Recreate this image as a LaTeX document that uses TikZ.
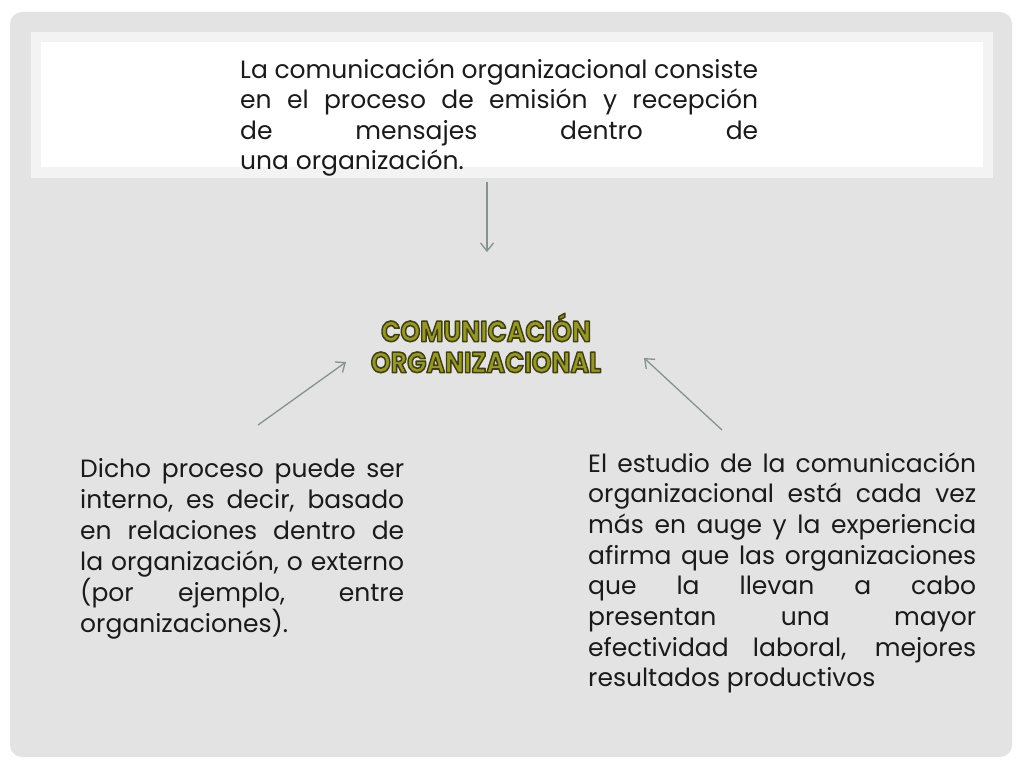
\documentclass[tikz,border=0pt]{standalone}
\usepackage{fontspec}
\setmainfont{Poppins}
\usetikzlibrary{calc}
\usetikzlibrary{arrows.meta}
\usetikzlibrary{positioning}

\definecolor{cardgray}{HTML}{E3E3E3}
\definecolor{bandgray}{HTML}{F3F3F3}
\definecolor{arrowgray}{HTML}{83938E}
\definecolor{olivefill}{HTML}{96962A}
\definecolor{textgray}{HTML}{1A1A1A}

\newcommand{\jline}[1]{\makebox[\hsize][s]{#1}\par}
\newcommand{\lline}[1]{\makebox[\hsize][l]{#1}\par}
% fill + dark stroke for the title glyphs
\newcommand{\outlined}[1]{\special{pdf:literal direct 2 Tr 1 j 1.6 w 0.25 0.25 0.06 RG}#1\special{pdf:literal direct 0 Tr}}

\tikzset{
  para/.style={anchor=base west, inner sep=0, text=textgray,
    font=\fontsize{25}{30}\selectfont},
  conn/.style={arrowgray, line width=1.3pt,
    -{Straight Barb[length=8pt,width=13pt]}},
  titletext/.style={font=\fontsize{29}{31}\selectfont\bfseries,
    align=center, inner sep=0}
}

\begin{document}
\begin{tikzpicture}[x=1pt,y=-1pt]
\useasboundingbox (0,0) rectangle (1024,768);
\fill[white] (0,0) rectangle (1024,768);
\fill[cardgray, rounded corners=12] (10,12) rectangle (1012,757);
\fill[bandgray] (31,32) rectangle (993,178);
\fill[white] (41,42) rectangle (983,167);

% paragraphs
\node[para] (intro) at (240,78) {\vtop{\hsize=518pt \parindent=0pt \baselineskip=30.5pt
  \jline{La comunicación organizacional consiste}
  \jline{en el proceso de emisión y recepción}
  \jline{de mensajes dentro de}
  \lline{una organización.}}};
\node[para] (interno) at (80,477) {\vtop{\hsize=324pt \parindent=0pt \baselineskip=31pt
  \jline{Dicho proceso puede ser}
  \jline{interno, es decir, basado}
  \jline{en relaciones dentro de}
  \jline{la organización, o externo}
  \jline{(por ejemplo, entre}
  \lline{organizaciones).}}};
\node[para] (estudio) at (588,472) {\vtop{\hsize=388pt \parindent=0pt \baselineskip=30.7pt
  \jline{El estudio de la comunicación}
  \jline{organizacional está cada vez}
  \jline{más en auge y la experiencia}
  \jline{afirma que las organizaciones}
  \jline{que la llevan a cabo}
  \jline{presentan una mayor}
  \jline{efectividad laboral, mejores}
  \lline{resultados productivos}}};

% title
\node[titletext, text=olivefill, xscale=.87] (title) at (486,343)
  {\outlined{COMUNICACIÓN\\ORGANIZACIONAL}};

% connectors
\coordinate (topTail) at (487,182);
\coordinate (topTip) at (487,252);
\coordinate (leftTail) at (258,425);
\coordinate (leftTip) at (346,362);
\coordinate (rightTail) at (722,430);
\coordinate (rightTip) at (644,358);
\draw[conn] (topTail) -- (topTip);
\draw[conn] (leftTail) -- (leftTip);
\draw[conn] (rightTail) -- (rightTip);
\end{tikzpicture}
\end{document}
